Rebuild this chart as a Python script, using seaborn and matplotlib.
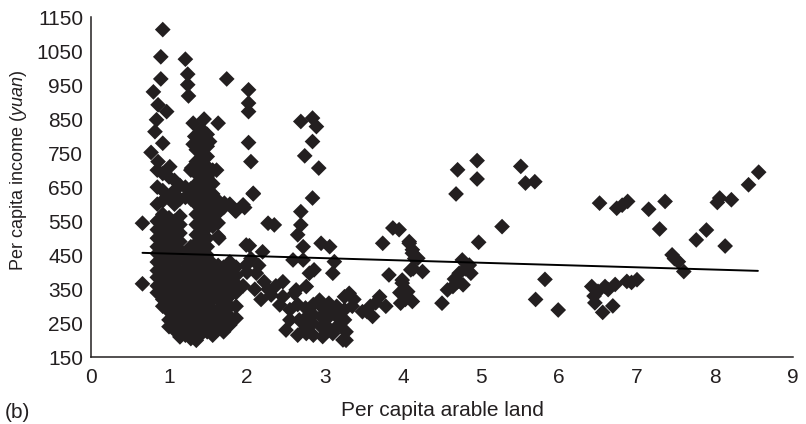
import numpy as np
import pandas as pd
import seaborn as sns
import matplotlib.pyplot as plt

# ---------------- data ----------------
# outliers and high-income points, x < 2.1
top_x = [0.66, 0.66, 0.92, 0.895, 1.21, 0.895, 1.24, 1.24, 1.25, 1.74, 0.80, 2.02, 2.02, 2.02,
         0.86, 0.97, 0.84, 0.82, 1.31, 1.45, 1.63, 1.33, 1.43, 1.52, 0.92, 0.77, 1.45, 0.86,
         1.01, 1.61, 1.29, 2.02, 2.05, 1.31]
top_y = [544, 366, 1113, 1033, 1026, 968, 982, 951, 918, 968, 930, 936, 897, 872,
         892, 872, 848, 813, 838, 850, 838, 799, 790, 784, 779, 752, 745, 725,
         710, 700, 706, 781, 725, 776]

# dense main cluster, x 0.8 - 1.9
c085 = [700, 650, 600, 550, 525, 500, 475, 455, 430, 405, 385, 360, 340]
c092 = [690, 640, 610, 570, 545, 520, 495, 470, 445, 420, 395, 370, 345, 320, 300]
c100 = [680, 620, 560, 535, 510, 485, 460, 435, 410, 385, 360, 335, 310, 285, 260, 240]
c107 = [670, 640, 600, 550, 525, 500, 475, 450, 425, 400, 375, 350, 325, 300, 275, 250, 230]
c114 = [655, 615, 565, 540, 515, 490, 465, 440, 400, 375, 350, 325, 300, 275, 250, 225, 210]
c121 = [650, 620, 455, 430, 410, 385, 360, 335, 310, 285, 260, 235, 215]
c128 = [700, 645, 615, 475, 450, 425, 400, 375, 350, 325, 300, 275, 250, 225, 205]
c135 = [760, 725, 690, 660, 630, 600, 570, 540, 510, 485, 460, 435, 410, 385, 360, 335, 310,
        285, 260, 235, 200]
c142 = [820, 760, 730, 700, 670, 640, 610, 580, 550, 520, 495, 470, 445, 420, 395, 370, 345,
        320, 295, 270, 245, 220]
c149 = [805, 770, 740, 710, 680, 650, 620, 590, 560, 530, 500, 475, 450, 425, 400, 375, 350,
        325, 300, 275, 250, 225]
c156 = [700, 660, 630, 600, 565, 535, 425, 400, 375, 350, 320, 290, 265, 240, 215]
c163 = [610, 575, 545, 505, 420, 395, 370, 345, 320, 290, 260, 240]
c170 = [590, 415, 390, 365, 340, 310, 280, 250, 225]
c178 = [600, 430, 405, 380, 355, 330, 300, 270, 245]
c186 = [580, 415, 390, 365, 340, 300, 265]
col_x = [0.85, 0.92, 1.00, 1.07, 1.14, 1.21, 1.28, 1.35, 1.42, 1.49, 1.56, 1.63, 1.70, 1.78, 1.86]
col_y = [c085, c092, c100, c107, c114, c121, c128, c135, c142, c149, c156, c163, c170, c178, c186]

# points right of the main cluster, x 1.6 - 2.5
mid_x = [1.95, 1.71, 1.85, 2.08, 1.97, 2.08, 1.64, 1.99, 2.20, 2.27, 2.35, 2.03, 1.99, 2.12,
         2.22, 2.31, 2.42, 2.46, 2.37, 2.05, 2.15, 2.27, 2.00, 2.10, 2.18, 1.95]
mid_y = [598, 603, 580, 632, 590, 630, 500, 480, 460, 544, 539, 478, 421, 397,
         372, 333, 304, 372, 360, 440, 420, 350, 400, 350, 320, 360]

# x 2.5 - 3.4
x3_x = [2.69, 2.84, 2.89, 2.84, 2.74, 2.92, 2.84, 2.69, 2.69, 2.65, 2.72, 2.95, 3.06, 3.12,
        3.10, 2.59, 2.72, 2.86, 2.80, 2.61, 2.76, 2.63, 2.46, 2.93, 3.05, 3.25,
        2.50, 2.67, 2.84, 3.01, 3.10, 3.27, 2.97, 3.23, 2.76, 3.27, 3.31, 3.37,
        2.55, 2.55, 2.65, 2.65, 2.75, 2.75, 2.75, 2.85, 2.85, 2.85, 2.95, 2.95, 2.95,
        3.05, 3.05, 3.15, 3.15, 3.15, 3.25, 3.25, 3.35]
x3_y = [843, 853, 828, 784, 742, 706, 618, 578, 539, 510, 475, 485, 475, 431,
        397, 436, 436, 407, 397, 338, 358, 348, 328, 318, 309, 328,
        230, 260, 250, 260, 220, 225, 211, 201, 220, 200, 338, 320,
        260, 290, 215, 305, 235, 265, 295, 215, 275, 305, 240, 270, 300,
        235, 285, 240, 270, 300, 260, 290, 300]

# x 3.4 - 4.3
x4_x = [3.54, 3.48, 3.61, 3.70, 3.65, 3.82, 3.74, 3.87, 4.08, 4.12, 4.10, 3.99, 3.96, 4.03,
        4.15, 3.95, 4.08, 4.12, 4.19, 4.13, 4.25, 3.99, 4.06, 4.12, 3.97, 3.78, 3.58]
x4_y = [284, 284, 270, 328, 310, 392, 485, 530, 485, 456, 407, 377, 340, 320,
        440, 525, 490, 466, 441, 410, 402, 368, 343, 314, 309, 300, 300]

# x 4.5 - 6.0
x5_x = [4.50, 4.57, 4.64, 4.70, 4.77, 4.76, 4.85, 4.87, 4.72, 4.70, 4.95, 4.95, 4.68, 4.97,
        5.27, 5.51, 5.57, 5.69, 5.82, 5.70, 5.99, 4.80, 4.66]
x5_y = [309, 348, 358, 372, 363, 436, 421, 397, 397, 701, 728, 674, 630, 488,
        534, 711, 662, 666, 379, 320, 289, 410, 380]

# x 6.4 - 8.6
x6_x = [6.52, 6.74, 6.88, 6.81, 7.15, 7.36, 7.29, 7.45, 7.53, 7.60, 7.48, 7.76, 7.89, 8.13,
        8.06, 8.21, 8.03, 8.43, 8.56, 6.42, 6.50, 6.63, 6.72, 6.87, 7.00, 6.46, 6.56,
        6.69, 6.59, 6.45, 6.93]
x6_y = [603, 588, 608, 597, 585, 608, 527, 451, 431, 402, 440, 495, 524, 477,
        618, 613, 605, 657, 694, 358, 344, 349, 364, 373, 378, 310, 282,
        301, 358, 330, 370]

# fitted trend line end points
trend_x = [0.66, 8.55]
trend_y = [457, 404]

x_ticks = list(range(0, 10))
y_ticks = list(range(150, 1151, 100))

# ---------------- build table ----------------
xs, ys = [], []
xs += top_x; ys += top_y
for cx, cy in zip(col_x, col_y):
    xs += [cx] * len(cy); ys += cy
for gx, gy in [(mid_x, mid_y), (x3_x, x3_y), (x4_x, x4_y), (x5_x, x5_y), (x6_x, x6_y)]:
    xs += gx; ys += gy
df = pd.DataFrame({"land": xs, "income": ys})
trend = pd.DataFrame({"land": trend_x, "income": trend_y})

# ---------------- plot ----------------
sns.set_style("white")
plt.rcParams['font.family'] = ['Liberation Sans', 'DejaVu Sans']
plt.rcParams['mathtext.fontset'] = 'custom'
plt.rcParams['mathtext.rm'] = 'Liberation Sans'
plt.rcParams['mathtext.it'] = 'Liberation Sans:italic'

INK = "#231f20"
W, H = 806, 424
fig = plt.figure(figsize=(W / 100, H / 100), dpi=100)
ax = fig.add_axes([91 / W, (H - 357.3) / H, (793 - 91) / W, (357.3 - 17) / H])

sns.scatterplot(data=df, x="land", y="income", marker="D", s=64, color=INK,
                edgecolor="none", linewidth=0, ax=ax, zorder=2)
sns.lineplot(data=trend, x="land", y="income", color="black", linewidth=1.4, ax=ax, zorder=3)

ax.set_xlim(0, 9)
ax.set_ylim(150, 1150)
ax.set_xticks(x_ticks)
ax.set_yticks(y_ticks)
ax.tick_params(direction="in", length=5, width=1, labelsize=15, colors=INK)
ax.tick_params(axis="x", pad=7.5)
ax.tick_params(axis="y", pad=5.5)
for s in ["top", "right"]:
    ax.spines[s].set_visible(False)
for s in ["left", "bottom"]:
    ax.spines[s].set_color(INK)
    ax.spines[s].set_linewidth(1.1)

ax.set_xlabel("Per capita arable land", fontsize=15, color=INK, labelpad=10)
ax.set_ylabel("Per capita income ($\\it{yuan}$)", fontsize=13, color=INK)
ax.yaxis.set_label_coords((29 - 91) / 702, (357.3 - 170) / 340.3)
fig.text(5 / W, 1 - 412 / H, "(b)", fontsize=15, color=INK, va="center", ha="left")

fig.savefig("out.png", dpi=100)
